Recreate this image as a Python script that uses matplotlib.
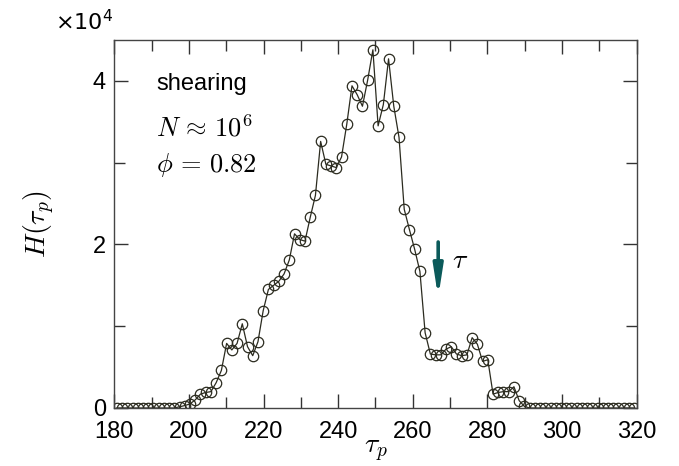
import numpy as np
import matplotlib
matplotlib.use("Agg")
import matplotlib.pyplot as plt

plt.rcParams['font.family'] = ['Liberation Sans', 'DejaVu Sans']
plt.rcParams['mathtext.fontset'] = 'cm'

# bin centres (100 bins of width 1.4 between 180 and 320)
tau_p = np.linspace(180.7, 319.3, 100)

# histogram counts in units of 10^4
H = [
    0, 0, 0, 0, 0, 0, 0, 0, 0, 0,
    0, 0, 0.015, 0.03, 0.05, 0.10, 0.17, 0.19, 0.20, 0.31,
    0.46, 0.79, 0.71, 0.79, 1.03, 0.75, 0.64, 0.81, 1.19, 1.45,
    1.50, 1.55, 1.64, 1.81, 2.13, 2.06, 2.04, 2.33, 2.60, 3.26,
    2.98, 2.96, 2.94, 3.07, 3.47, 3.94, 3.83, 3.69, 4.01, 4.38,
    3.45, 3.71, 4.27, 3.69, 3.31, 2.43, 2.18, 1.94, 1.67, 0.92,
    0.66, 0.65, 0.65, 0.72, 0.75, 0.66, 0.64, 0.65, 0.86, 0.78,
    0.57, 0.59, 0.17, 0.19, 0.20, 0.20, 0.26, 0.09, 0.02, 0,
    0, 0, 0, 0, 0, 0, 0, 0, 0, 0,
    0, 0, 0, 0, 0, 0, 0, 0, 0, 0,
]

x_ticks = [180, 200, 220, 240, 260, 280, 300, 320]
y_ticks = [0, 2, 4]

fig = plt.figure(figsize=(6.79, 4.66), dpi=100)
ax = fig.add_axes([114.3 / 679, 1 - 408 / 466, (636.7 - 114.3) / 679, (408 - 40) / 466])

ax.plot(tau_p, H, '-', color='#2b2b1f', lw=0.9, marker='o', ms=7.5,
        mfc='none', mec='#2b2b1f', mew=0.9)

ax.set_xlim(180, 320)
ax.set_ylim(0, 4.5)
ax.set_xticks(x_ticks)
ax.set_xticks(np.arange(190, 320, 20), minor=True)
ax.set_yticks(y_ticks)
ax.set_yticks([1, 3], minor=True)
ax.tick_params(which='both', direction='in', top=True, right=True,
               labelsize=17, color='#333333', width=1.0)
ax.tick_params(which='major', length=10)
ax.tick_params(axis='x', which='major', pad=9)
ax.tick_params(axis='y', which='major', pad=6)
ax.tick_params(which='minor', length=8)
for s in ax.spines.values():
    s.set_color('#444444')
    s.set_linewidth(1.0)

ax.set_xlabel(r'$\tau_p$', fontsize=20, labelpad=-3)
ax.set_ylabel(r'$H(\tau_p)$', fontsize=20, labelpad=26)

fig.text(55 / 679, 1 - 22 / 466, r'$\times10^4$', fontsize=16, va='center', ha='left',
         family=['DejaVu Sans'], math_fontfamily='dejavusans')

ax.text(0.08, 0.88, 'shearing', transform=ax.transAxes, fontsize=17, va='center')
ax.text(0.08, 0.76, r'$N\,\approx\,10^6$', transform=ax.transAxes, fontsize=19, va='center')
ax.text(0.08, 0.66, r'$\phi\,=\,0.82$', transform=ax.transAxes, fontsize=19, va='center')

ax.annotate('', xy=(266.8, 1.35), xytext=(266.8, 2.03),
            arrowprops=dict(arrowstyle='-|>,head_width=0.28,head_length=1.8',
                            color='#0b5a5a', lw=2.6, shrinkA=0, shrinkB=0))
ax.text(270.5, 1.80, r'$\tau$', fontsize=20, va='center', ha='left')

fig.savefig('out.png', dpi=100)
